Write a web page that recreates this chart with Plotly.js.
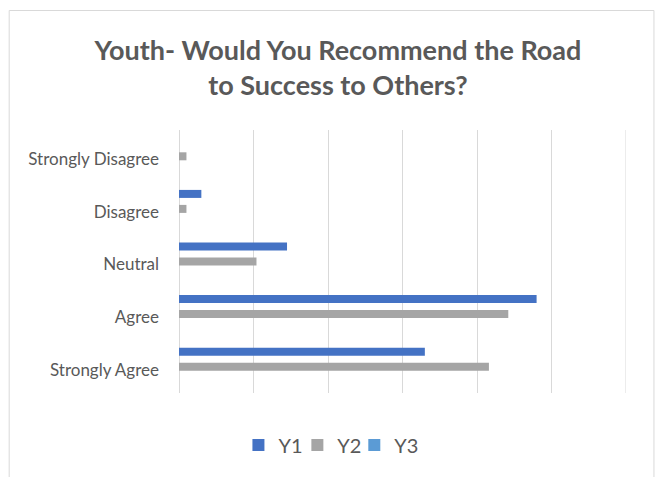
<!DOCTYPE html>
<html>
<head>
<meta charset="utf-8">
<script src="https://cdn.plot.ly/plotly-3.0.1.min.js"></script>
<style>
html,body{margin:0;padding:0;background:#fff;}
#chart{width:655px;height:477px;}
</style>
</head>
<body>
<div id="chart"></div>
<script>
// Categories listed bottom to top (Plotly draws the first category at the bottom)
const categories = ["Strongly Agree", "Agree", "Neutral", "Disagree", "Strongly Disagree"];
const seriesNames = ["Y1", "Y2", "Y3"];
const y1Values = [33, 48, 14.5, 3, 0];
const y2Values = [41.6, 44.2, 10.4, 1, 1];
const y3Values = [0, 0, 0, 0, 0];
const seriesColors = ["#4472C4", "#A5A5A5", "#5B9BD5"];

const barW = 0.152;
const centers = [0.285, 0, -0.285]; // Y1 on top, Y2 middle, Y3 bottom
const vals = [y1Values, y2Values, y3Values];
const legendIds = ["legend", "legend2", "legend3"];

const traces = vals.map((v, i) => ({
  type: "bar",
  orientation: "h",
  name: seriesNames[i],
  y: categories,
  x: v,
  width: barW,
  offset: centers[i] - barW / 2,
  marker: {color: seriesColors[i]},
  legend: legendIds[i],
  hoverinfo: "x+name"
}));

const L = 178.5, R = 626, T = 130, B = 393;
const W = 655, H = 477;
const pw = R - L, ph = B - T;
const px = v => (v - L) / pw;
const py = v => (B - v) / ph;

const legendLefts = [238, 297, 354];
function legendBox(left) {
  return {
    orientation: "h",
    x: px(left),
    xanchor: "left",
    y: py(445),
    yanchor: "middle",
    font: {size: 20, color: "#595959"},
    bgcolor: "rgba(0,0,0,0)"
  };
}

const layout = {
  width: W,
  height: H,
  margin: {l: L, r: W - R, t: T, b: H - B, pad: 0},
  paper_bgcolor: "#ffffff",
  plot_bgcolor: "#ffffff",
  font: {family: "Lato, 'Liberation Sans', sans-serif", color: "#595959"},
  title: {
    text: "Youth- Would You Recommend the Road<br>to Success to Others?",
    font: {family: "Lato, 'Liberation Sans', sans-serif", size: 27, color: "#595959", weight: "bold"},
    x: 338 / W,
    xanchor: "center",
    xref: "container",
    y: 1 - 60 / H,
    yanchor: "middle",
    yref: "container"
  },
  barmode: "group",
  showlegend: true,
  legend: legendBox(legendLefts[0]),
  legend2: legendBox(legendLefts[1]),
  legend3: legendBox(legendLefts[2]),
  xaxis: {
    range: [0, 60],
    dtick: 10,
    tick0: 0,
    showticklabels: false,
    showgrid: true,
    gridcolor: "#d9d9d9",
    gridwidth: 1,
    zeroline: true,
    zerolinecolor: "#d9d9d9",
    zerolinewidth: 1,
    showline: false,
    ticks: "",
    fixedrange: true
  },
  yaxis: {
    type: "category",
    categoryorder: "array",
    categoryarray: categories,
    showgrid: false,
    zeroline: false,
    showline: false,
    ticks: "",
    ticklabelstandoff: 19,
    ticklabelshift: 3,
    tickfont: {size: 17, color: "#595959"},
    fixedrange: true
  },
  shapes: [{
    type: "rect",
    xref: "paper", yref: "paper",
    x0: px(8.5), x1: px(654), y0: py(480), y1: py(10.5),
    line: {color: "#d9d9d9", width: 1},
    fillcolor: "rgba(0,0,0,0)",
    layer: "below"
  }, {
    type: "line",
    xref: "x", yref: "paper",
    x0: 60, x1: 60, y0: 0, y1: 1,
    line: {color: "#d9d9d9", width: 1},
    layer: "below"
  }]
};

Plotly.newPlot("chart", traces, layout, {displayModeBar: false, staticPlot: true});
</script>
</body>
</html>
